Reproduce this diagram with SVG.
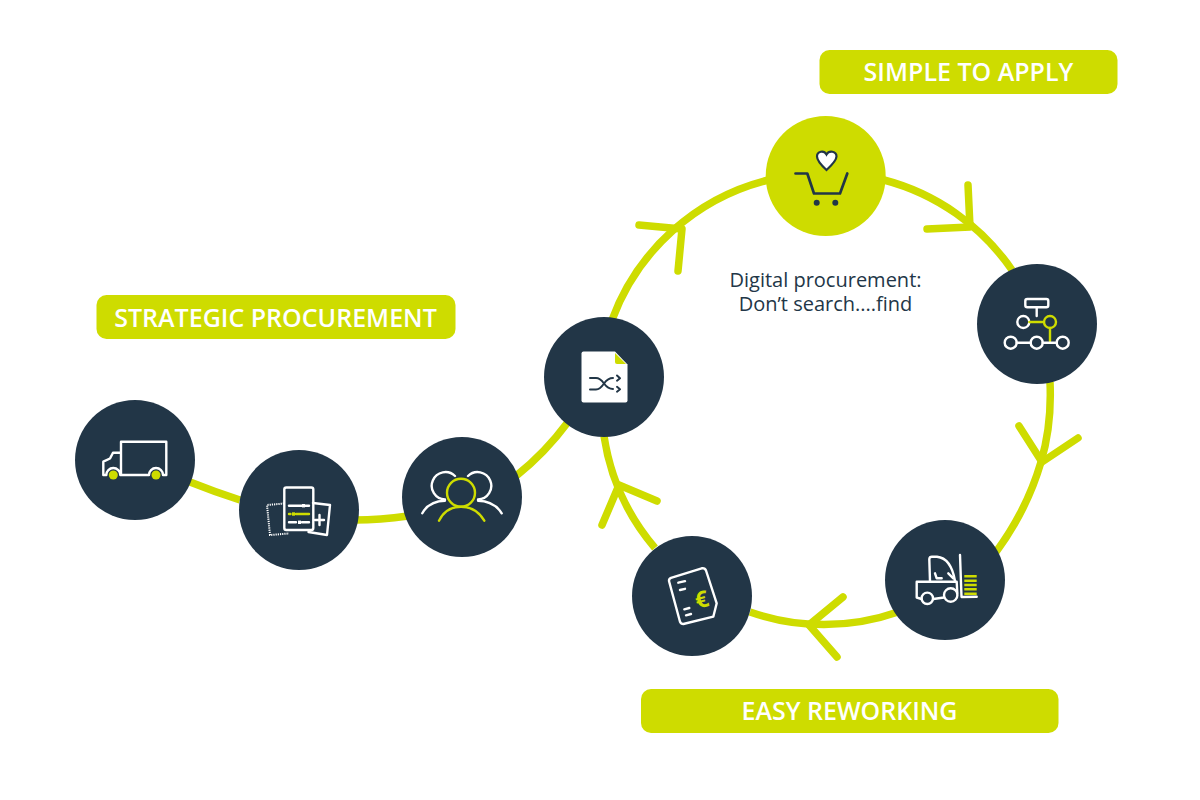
<svg xmlns="http://www.w3.org/2000/svg" width="1200" height="800" viewBox="0 0 1200 800">
  <style>
    .track { fill: none; stroke: #cedc00; stroke-width: 7.5; }
    .barb { fill: none; stroke: #cedc00; stroke-width: 7.5; stroke-linecap: round; stroke-linejoin: round; }
    .disc { fill: #223647; }
    .disc-lime { fill: #cedc00; }
    .pill { fill: #cedc00; }
    .pill-text { font-family: "Open Sans", "Noto Sans", sans-serif; font-size: 25px; font-weight: 600; fill: #ffffff; text-anchor: middle; }
    .caption { font-family: "Open Sans", "Noto Sans", sans-serif; font-size: 20px; fill: #223647; text-anchor: middle; }
    .w { fill: none; stroke: #ffffff; stroke-width: 2.4; stroke-linecap: round; stroke-linejoin: round; }
    .dots { fill: none; stroke: #ffffff; stroke-width: 2; stroke-dasharray: 1.2 1; }
    .g { fill: none; stroke: #cedc00; stroke-width: 2.4; stroke-linecap: round; stroke-linejoin: round; }
    .d { fill: none; stroke: #223647; stroke-width: 2; stroke-linecap: round; stroke-linejoin: round; }
  </style>

  <g id="connectors">
    <path class="track" d="M190 482 Q215 492 240 500"/>
    <path class="track" d="M355 520 Q380 520 408 516"/>
    <path class="track" d="M516 476 Q545 453 568 422"/>
    <path class="track" d="M612 320 A224 224 0 0 1 768 180"/>
    <path class="track" d="M884 180 A224 224 0 0 1 1012 270"/>
    <path class="track" d="M1050 382 Q1052 425 1041 462 Q1027 510 996 552"/>
    <path class="track" d="M898 612 A224 224 0 0 1 750 612"/>
    <path class="track" d="M655 548 A224 224 0 0 1 604 436"/>
    <path class="barb" d="M639 225 L682 229 L678 271"/>
    <path class="barb" d="M968 185 L970 227 L927 229"/>
    <path class="barb" d="M1019 426 L1042 462 L1078 438"/>
    <path class="barb" d="M843 597 L809 625 L837 657"/>
    <path class="barb" d="M657 501 L619 485 L602 525"/>
  </g>

  <g id="label-simple">
    <rect class="pill" x="819.500" y="50" width="298" height="44" rx="10"/>
    <text class="pill-text" x="968.500" y="81">SIMPLE TO APPLY</text>
  </g>
  <g id="label-strategic">
    <rect class="pill" x="96.500" y="295" width="359" height="44" rx="10"/>
    <text class="pill-text" x="275.500" y="327">STRATEGIC PROCUREMENT</text>
  </g>
  <g id="label-easy">
    <rect class="pill" x="641" y="689" width="417.500" height="44" rx="10"/>
    <text class="pill-text" x="849.500" y="720">EASY REWORKING</text>
  </g>

  <g id="caption">
    <text class="caption" x="825.500" y="287">Digital procurement:</text>
    <text class="caption" x="825.500" y="311">Don’t search....find</text>
  </g>

  <g id="node-truck">
    <circle class="disc" cx="135" cy="460" r="60"/>
    <path class="w" d="M121 475 V441.700 H166.300 V475 H163 A7 7 0 0 0 149 475 H120.300 A7 7 0 0 0 106.300 475 H103.300 V461.700 L110 458.500 L113 452.700 H121"/>
    <circle cx="113.300" cy="475" r="4.500" fill="#cedc00"/>
    <circle cx="156" cy="475" r="4.500" fill="#cedc00"/>
  </g>

  <g id="node-catalog">
    <circle class="disc" cx="299" cy="510" r="60"/>
    <path class="dots" d="M284 503.500 L267 505 L270 535 L289 533.500"/>
    <path class="w" d="M313 503 L330 505 L327 535 L308.500 532"/>
    <rect class="w" x="284.300" y="487.500" width="29" height="42.500" rx="2"/>
    <path class="w" stroke-width="1.600" d="M289 505.700 H309"/>
    <path class="g" stroke-width="1.600" d="M296 514 H309 M289 514 H290.500"/>
    <path class="w" stroke-width="1.600" d="M289 522.300 H296 M302 522.300 H309"/>
    <path class="w" d="M319.500 515 V525 M315 520 H324"/>
    <rect x="302" y="504" width="3" height="3.400" fill="#ffffff"/>
    <rect x="292" y="512.300" width="3" height="3.400" fill="#cedc00"/>
    <rect x="298" y="520.600" width="3" height="3.400" fill="#ffffff"/>
  </g>

  <g id="node-team">
    <circle class="disc" cx="462" cy="497" r="60"/>
    <path class="w" d="M455 476 A13.700 13.700 0 1 0 445 499.500 M445 500.700 Q429 501 422.300 513.300"/>
    <path class="w" d="M468 476 A13.700 13.700 0 1 1 478 499.500 M478 500.700 Q494 501 501.700 513.300"/>
    <circle class="g" cx="461" cy="492.700" r="14"/>
    <path class="g" d="M439 520.700 Q446 506.700 461 506.700 Q476 506.700 484.300 520.700"/>
  </g>

  <g id="node-document">
    <circle class="disc" cx="604" cy="377" r="60"/>
    <path d="M583.500 351.500 H615 L627.500 364.500 V400.500 Q627.500 402.500 625.500 402.500 H583.500 Q581.500 402.500 581.500 400.500 V353.500 Q581.500 351.500 583.500 351.500 Z" fill="#ffffff"/>
    <path d="M615 353 L626 364 H617 Q615 364 615 362 Z" fill="#cedc00"/>
    <path class="d" d="M590 378 H596 Q600 378 604 383.500 Q608 389 613 389 M590 389.500 H596 Q600 389.500 604 383.500 Q608 378 613 378 M617 375.500 L620 378.300 L617 380.700 M617 386.800 L620 389.300 L617 391.700"/>
  </g>

  <g id="node-cart">
    <circle class="disc-lime" cx="825.700" cy="176" r="60"/>
    <path d="M826.500 170 C820 164 817 160 817 156.500 C817 151 824 150 826.500 154.500 C829 150 836.500 151 836.500 156.500 C836.500 160 833 164 826.500 170 Z" fill="#ffffff" stroke="#223647" stroke-width="2.200"/>
    <path fill="none" stroke="#223647" stroke-width="2.700" stroke-linejoin="round" stroke-linecap="round" d="M795.500 173.500 H807.300 L814 193.500 H840 L847.300 173.500"/>
    <circle cx="816.700" cy="202.700" r="3" fill="#223647"/>
    <circle cx="835.300" cy="202.700" r="3" fill="#223647"/>
  </g>

  <g id="node-flow">
    <circle class="disc" cx="1037" cy="324" r="60"/>
    <rect class="w" x="1025.300" y="299" width="23" height="8.300" rx="2"/>
    <path class="w" d="M1036.700 307.300 V316"/>
    <circle class="w" cx="1023.300" cy="322" r="6"/>
    <path class="g" d="M1029.300 322 H1044 M1050 328 V341"/>
    <circle class="g" cx="1050" cy="322" r="6"/>
    <path class="w" d="M1016.700 342.700 H1030.700 M1042.700 342.700 H1056.700"/>
    <circle class="w" cx="1010.700" cy="342.700" r="6"/>
    <circle class="w" cx="1036.700" cy="342.700" r="6"/>
    <circle class="w" cx="1062.700" cy="342.700" r="6"/>
  </g>

  <g id="node-forklift">
    <circle class="disc" cx="945" cy="580" r="60"/>
    <path class="w" d="M930 581 L929.300 559 Q929.500 556.700 932 556.700 H937 Q951 558 955 581 M916.700 581.700 H956.700 L957.300 593 M935 573.300 L936.700 578.300 H941.700 M948.300 573.300 L953.300 578.300 M916.700 581.700 V597.500 L921.500 599 M933.300 599 L944 597.500 M960 555 L961.500 597 L976.700 596.700"/>
    <circle class="w" cx="927.300" cy="598.300" r="5.700"/>
    <circle class="w" cx="950.700" cy="595" r="6.700"/>
    <path d="M964.300 576.300 H976.700 M964.300 580.700 H976.700 M964.300 585 H976.700 M964.300 589.300 H976.700 M964.300 593.700 H976.700" fill="none" stroke="#cedc00" stroke-width="2.500"/>
  </g>

  <g id="node-invoice">
    <circle class="disc" cx="692" cy="596" r="60"/>
    <path class="w" d="M671 577.800 L701.700 568.300 Q705 567.800 706 570.500 L716.700 603.300 L713.300 616.700 L683.300 624 Q681 624 680 621.700 L669 581 Q668.800 578.800 671 577.800 Z"/>
    <path class="w" d="M678.300 582.700 L685 581.200 M680 590 L685 588.800 M684.300 609.300 L689.300 608 M686 615.300 L691 614"/>
    <text x="701.700" y="607.500" font-family="'Open Sans', 'Noto Sans', sans-serif" font-size="23" font-weight="700" fill="#cedc00" text-anchor="middle" transform="rotate(-15 701.700 599.300)">€</text>
  </g>
</svg>
